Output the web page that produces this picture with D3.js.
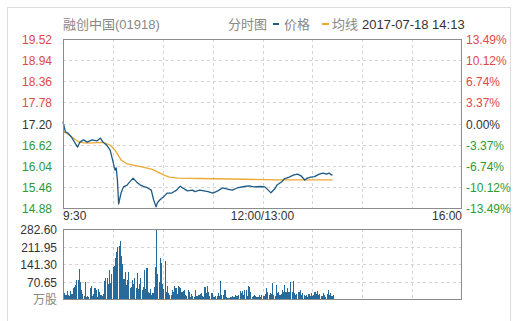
<!DOCTYPE html>
<html>
<head>
<meta charset="utf-8">
<title></title>
<style>
body { margin: 0; background: #fff; }
text { font-family: "Liberation Sans", Arial, "Noto Sans CJK SC", sans-serif; font-size: 12px; }
.grid { stroke: #d4d4d4; stroke-width: 1px; stroke-dasharray: 3,3; shape-rendering: crispEdges; }
.frame { fill: none; stroke: #8c8c8c; stroke-width: 1px; shape-rendering: crispEdges; }
</style>
</head>
<body>
<script src="https://d3js.org/d3.v7.min.js"></script>
<script>

// price ticks (left) and previous close
var priceTicks = [19.52, 18.94, 18.36, 17.78, 17.20, 16.62, 16.04, 15.46, 14.88];
var prevClose = 17.20;
// volume ticks (unit: 万股)
var volTicks = [282.60, 211.95, 141.30, 70.65];
var timeTicks = [0, 165, 330];
var timeLabels = ["9:30", "12:00/13:00", "16:00"];

// minute index since 9:30 (lunch break skipped) and last price
var priceMinutes = [0, 2, 4, 7, 12, 14, 17, 20, 24, 28, 31, 33, 36, 39, 41, 43, 44, 45, 46, 48,
  50, 53, 55, 58, 61, 64, 66, 70, 73, 75, 77, 78, 80, 83, 86, 90, 94, 97, 99, 103,
  107, 109, 113, 120, 124, 128, 132, 136, 140, 144, 150, 154, 158, 163, 167, 171, 172, 175, 177, 181,
  183, 187, 191, 194, 197, 200, 202, 205, 208, 212, 215, 218, 220, 222, 223];
var prices = [17.25, 16.97, 16.94, 16.83, 16.55, 16.69, 16.75, 16.69, 16.75, 16.72, 16.80, 16.69, 16.61, 16.47, 16.20, 15.92, 15.98, 15.65, 14.99, 15.29,
  15.46, 15.51, 15.59, 15.70, 15.59, 15.51, 15.48, 15.43, 15.37, 15.10, 14.91, 15.02, 15.10, 15.18, 15.29, 15.29, 15.37, 15.48, 15.43, 15.35,
  15.37, 15.33, 15.37, 15.33, 15.29, 15.35, 15.43, 15.40, 15.37, 15.43, 15.47, 15.49, 15.46, 15.47, 15.46, 15.33, 15.30, 15.40, 15.51, 15.60,
  15.68, 15.73, 15.79, 15.81, 15.76, 15.65, 15.70, 15.73, 15.74, 15.81, 15.84, 15.81, 15.84, 15.79, 15.79];

// average price line
var avgMinutes = [0, 4, 7, 12, 14, 20, 33, 39, 43, 46, 48, 53, 58, 66, 74, 78, 83, 88, 95, 113, 150, 175, 223];
var avgPrices = [16.99, 16.91, 16.83, 16.72, 16.68, 16.66, 16.68, 16.61, 16.47, 16.31, 16.20, 16.09, 16.06, 16.00, 15.94, 15.87, 15.79, 15.73, 15.70, 15.69, 15.67, 15.65, 15.65];

// volume per minute, 万股
var volumes = [20, 23, 18, 32, 16, 14, 32, 20, 43, 50,
  56, 77, 78, 121, 70, 36, 20, 12, 70, 10,
  14, 8, 43, 51, 12, 20, 45, 38, 10, 39,
  30, 18, 12, 20, 72, 85, 83, 60, 116, 63,
  100, 131, 135, 165, 190, 210, 215, 236, 175, 140,
  80, 110, 55, 76, 111, 45, 50, 76, 60, 83,
  45, 104, 40, 60, 83, 35, 50, 118, 40, 124,
  30, 25, 40, 15, 25, 50, 131, 282.6, 100, 70,
  165, 145, 60, 40, 152, 30, 51, 23, 17, 16,
  38, 30, 54, 44, 20, 51, 50, 44, 30, 31,
  36, 15, 12, 38, 30, 10, 20, 12, 10, 36,
  14, 12, 16, 19, 23, 12, 10, 50, 23, 51,
  30, 14, 23, 23, 10, 10, 12, 14, 23, 14,
  71, 16, 16, 38, 36, 10, 5, 3, 8, 10,
  14, 10, 16, 14, 12, 16, 31, 23, 32, 16,
  38, 36, 14, 51, 50, 30, 10, 14, 16, 12,
  10, 10, 16, 10, 16, 14, 12, 20, 43, 30,
  16, 23, 20, 63, 16, 12, 56, 23, 30, 16,
  20, 36, 30, 56, 30, 43, 30, 30, 70, 30,
  72, 23, 16, 20, 30, 30, 36, 16, 23, 16,
  14, 16, 10, 19, 14, 23, 14, 16, 30, 19,
  32, 16, 20, 14, 12, 23, 16, 10, 19, 36,
  16, 23, 14, 16];

var width = 518, height = 321;
var left = 63, right = 462;
var pTop = 39, pBottom = 208;
var vTop = 229, vBottom = 299;

var red = "#e04848", green = "#2f9a34", dark = "#333", grey = "#888";
var lineBlue = "#1d5a84", barBlue = "#286a9a", orange = "#eea935";

var svg = d3.select("body").append("svg")
    .attr("width", width)
    .attr("height", height);

svg.append("rect")
    .attr("x", 7.5).attr("y", 7.5)
    .attr("width", 503).attr("height", 340)
    .attr("fill", "#fff")
    .attr("stroke", "#dcdcdc");

var x = d3.scaleLinear().domain([0, 330]).range([left, right]);
var y = d3.scaleLinear().domain([14.88, 19.52]).range([pBottom, pTop]);
var yv = d3.scaleLinear().domain([0, 282.60]).range([vBottom, vTop]);

// vertical grid lines, 8 equal parts
var vgrid = d3.range(1, 8).map(function(i) { return Math.round(left + i * (right - left) / 8) + 0.5; });

function drawGrid(top, bottom, ys) {
  svg.append("g").selectAll("line.v")
      .data(vgrid).enter().append("line")
      .attr("class", "grid")
      .attr("x1", function(d) { return d; }).attr("x2", function(d) { return d; })
      .attr("y1", top).attr("y2", bottom);
  svg.append("g").selectAll("line.h")
      .data(ys).enter().append("line")
      .attr("class", "grid")
      .attr("x1", left).attr("x2", right)
      .attr("y1", function(d) { return d; }).attr("y2", function(d) { return d; });
}

drawGrid(pTop, pBottom, priceTicks.slice(1, -1).map(function(p) { return Math.round(y(p)) + 0.5; }));
drawGrid(vTop, vBottom, volTicks.slice(1).map(function(v) { return Math.round(yv(v)) + 0.5; }));

// price axis labels
function tickColor(p) {
  if (Math.abs(p - prevClose) < 0.001) return dark;
  return p > prevClose ? red : green;
}

svg.append("g").selectAll("text")
    .data(priceTicks).enter().append("text")
    .attr("x", 52)
    .attr("y", function(d) { return y(d) + 5; })
    .attr("text-anchor", "end")
    .attr("fill", tickColor)
    .text(function(d) { return d.toFixed(2); });

svg.append("g").selectAll("text")
    .data(priceTicks).enter().append("text")
    .attr("x", 466)
    .attr("y", function(d) { return y(d) + 5; })
    .attr("fill", tickColor)
    .text(function(d) {
      var pct = (d - prevClose) / prevClose * 100;
      return (Math.abs(pct) < 0.005 ? 0 : pct).toFixed(2) + "%";
    });

// time labels
svg.append("g").selectAll("text")
    .data(timeTicks).enter().append("text")
    .attr("x", function(d) { return x(d); })
    .attr("y", 220)
    .attr("text-anchor", function(d, i) { return ["start", "middle", "end"][i]; })
    .attr("fill", dark)
    .text(function(d, i) { return timeLabels[i]; });

// volume labels
svg.append("g").selectAll("text")
    .data(volTicks).enter().append("text")
    .attr("x", 57)
    .attr("y", function(d) { return yv(d) + 5; })
    .attr("text-anchor", "end")
    .attr("fill", dark)
    .text(function(d) { return d.toFixed(2); });

svg.append("text")
    .attr("x", 57).attr("y", vBottom + 5)
    .attr("text-anchor", "end")
    .attr("fill", grey)
    .text("万股");

// volume bars
var step = x(1) - x(0);
svg.append("g").selectAll("rect")
    .data(volumes).enter().append("rect")
    .attr("x", function(d, i) { return x(i); })
    .attr("width", step * 0.9)
    .attr("y", function(d) { return yv(d); })
    .attr("height", function(d) { return vBottom - yv(d); })
    .attr("fill", barBlue)
    .attr("shape-rendering", "crispEdges");

// price and average lines
var priceData = priceMinutes.map(function(m, i) { return {m: m, p: prices[i]}; });
var avgData = avgMinutes.map(function(m, i) { return {m: m, p: avgPrices[i]}; });

var line = d3.line()
    .x(function(d) { return x(d.m); })
    .y(function(d) { return y(d.p); });

svg.append("path")
    .datum(avgData)
    .attr("d", line)
    .attr("fill", "none")
    .attr("stroke", orange)
    .attr("stroke-width", 1.3);

svg.append("path")
    .datum(priceData)
    .attr("d", line)
    .attr("fill", "none")
    .attr("stroke", lineBlue)
    .attr("stroke-width", 1.3)
    .attr("stroke-linejoin", "round");

// frames
svg.append("rect").attr("class", "frame")
    .attr("x", left + 0.5).attr("y", pTop + 0.5)
    .attr("width", right - left - 1).attr("height", pBottom - pTop);
svg.append("rect").attr("class", "frame")
    .attr("x", left + 0.5).attr("y", vTop + 0.5)
    .attr("width", right - left - 1).attr("height", vBottom - vTop);

// header
svg.append("text")
    .attr("x", 63).attr("y", 29)
    .attr("fill", grey)
    .style("font-size", "13px")
    .text("融创中国(01918)");

svg.append("text")
    .attr("x", 228).attr("y", 29)
    .attr("fill", grey)
    .style("font-size", "13px")
    .text("分时图");

svg.append("rect").attr("x", 273).attr("y", 23).attr("width", 6).attr("height", 2).attr("fill", lineBlue);
svg.append("text")
    .attr("x", 284).attr("y", 29)
    .attr("fill", grey)
    .style("font-size", "13px")
    .text("价格");

svg.append("rect").attr("x", 322).attr("y", 23).attr("width", 7).attr("height", 2).attr("fill", orange);
svg.append("text")
    .attr("x", 332).attr("y", 29)
    .attr("fill", grey)
    .style("font-size", "13px")
    .text("均线");

svg.append("text")
    .attr("x", 362).attr("y", 29)
    .attr("fill", dark)
    .style("font-size", "13px")
    .text("2017-07-18 14:13");

</script>
</body>
</html>
